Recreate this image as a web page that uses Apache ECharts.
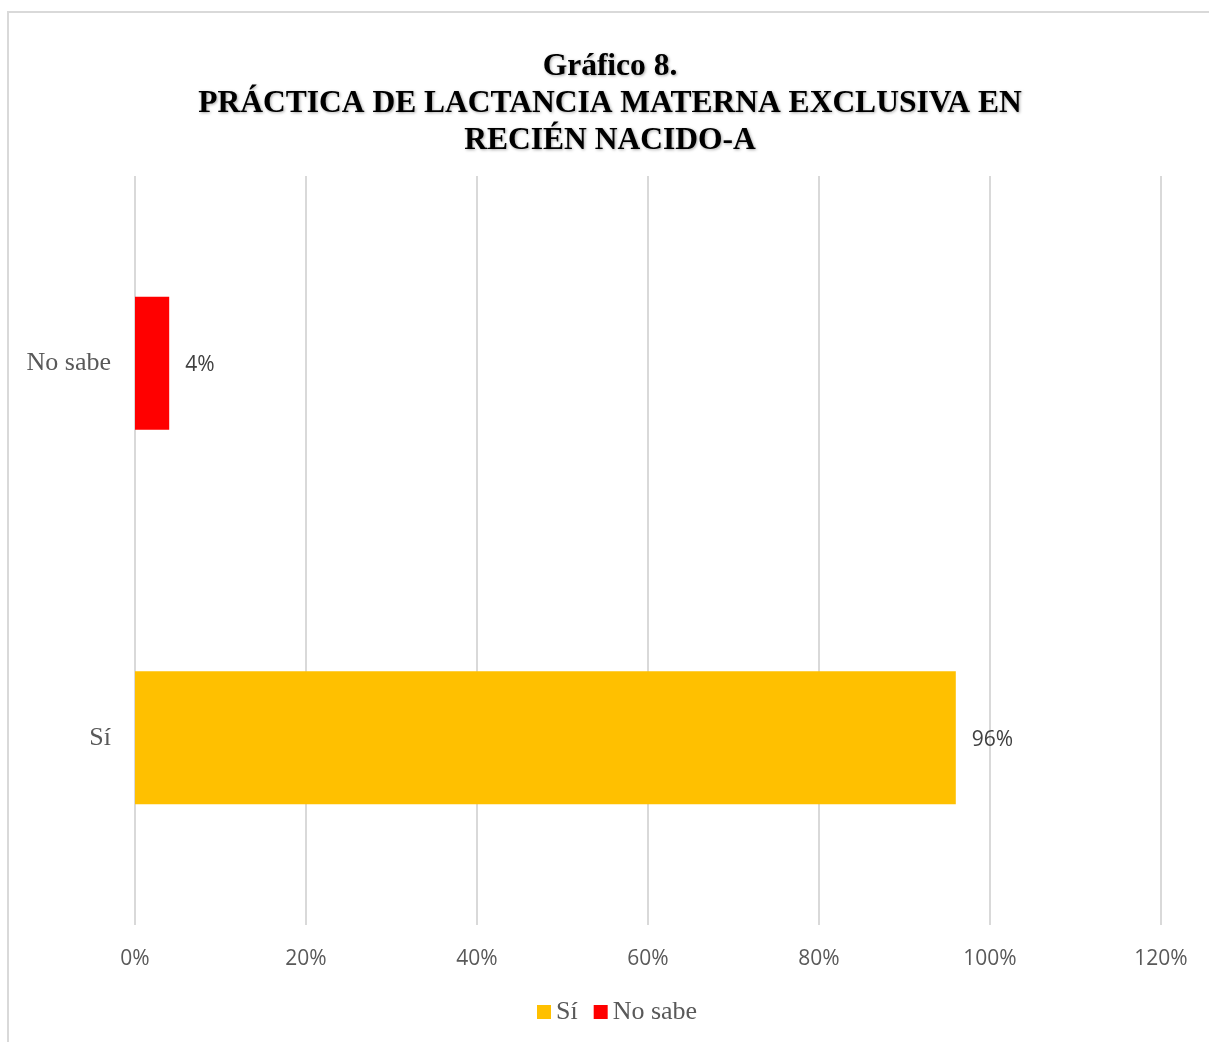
<!DOCTYPE html>
<html>
<head>
<meta charset="utf-8">
<script src="https://cdn.jsdelivr.net/npm/echarts@6/dist/echarts.min.js"></script>
<style>
html,body{margin:0;padding:0;background:#fff;}
#frame{position:absolute;left:7px;top:11px;width:1300px;height:1100px;border:2px solid #d9d9d9;box-sizing:border-box;}
#chart{position:absolute;left:0;top:0;width:1209px;height:1042px;}
</style>
</head>
<body>
<div id="frame"></div>
<div id="chart"></div>
<script>
var categories = ['Sí', 'No sabe'];
var seriesNames = ['Sí', 'No sabe'];
var valuesSi = [96, null];
var valuesNoSabe = [null, 4];
var colors = ['#FFC000', '#FF0000'];
var xTicks = [0, 20, 40, 60, 80, 100, 120];

var chart = echarts.init(document.getElementById('chart'), null, {renderer: 'canvas'});
var labelStyle = {
  show: true, position: 'right', distance: 16, offset: [0, 2],
  formatter: function(p){ return p.value + '%'; },
  fontFamily: '"Open Sans", "Liberation Sans", sans-serif', fontSize: 21, color: '#404040'
};
chart.setOption({
  animation: false,
  title: {
    text: 'Gráfico 8.\nPRÁCTICA DE LACTANCIA MATERNA EXCLUSIVA EN\nRECIÉN NACIDO-A',
    left: 605, textAlign: 'center', top: 43,
    textStyle: {
      fontFamily: '"Liberation Serif", "Times New Roman", serif',
      fontWeight: 'bold', fontSize: 31.5, lineHeight: 37, color: '#000',
      textShadowColor: 'rgba(0,0,0,0.35)', textShadowBlur: 3, textShadowOffsetX: 1, textShadowOffsetY: 1
    }
  },
  legend: {
    data: seriesNames, left: 532, top: 994,
    itemWidth: 14, itemHeight: 14, itemGap: 16, icon: 'rect',
    textStyle: {fontFamily: '"Liberation Serif", serif', fontSize: 26, color: '#595959'}
  },
  grid: {left: 135, right: 48, top: 176, bottom: 117, containLabel: false},
  xAxis: {
    type: 'value', min: 0, max: 120, interval: 20,
    axisLine: {show: false}, axisTick: {show: false},
    splitLine: {lineStyle: {color: '#d9d9d9', width: 2}},
    axisLabel: {
      formatter: function(v){ return v + '%'; }, margin: 24,
      fontFamily: '"Open Sans", "Liberation Sans", sans-serif', fontSize: 21, color: '#595959'
    }
  },
  yAxis: {
    type: 'category', data: categories,
    axisLine: {show: false}, axisTick: {show: false},
    axisLabel: {margin: 24, fontFamily: '"Liberation Serif", serif', fontSize: 26, color: '#595959'}
  },
  series: [
    {name: seriesNames[0], type: 'bar', stack: 'a', data: valuesSi, barWidth: 133,
     itemStyle: {color: colors[0]}, label: labelStyle},
    {name: seriesNames[1], type: 'bar', stack: 'a', data: valuesNoSabe, barWidth: 133,
     itemStyle: {color: colors[1]}, label: labelStyle}
  ]
});
</script>
</body>
</html>
